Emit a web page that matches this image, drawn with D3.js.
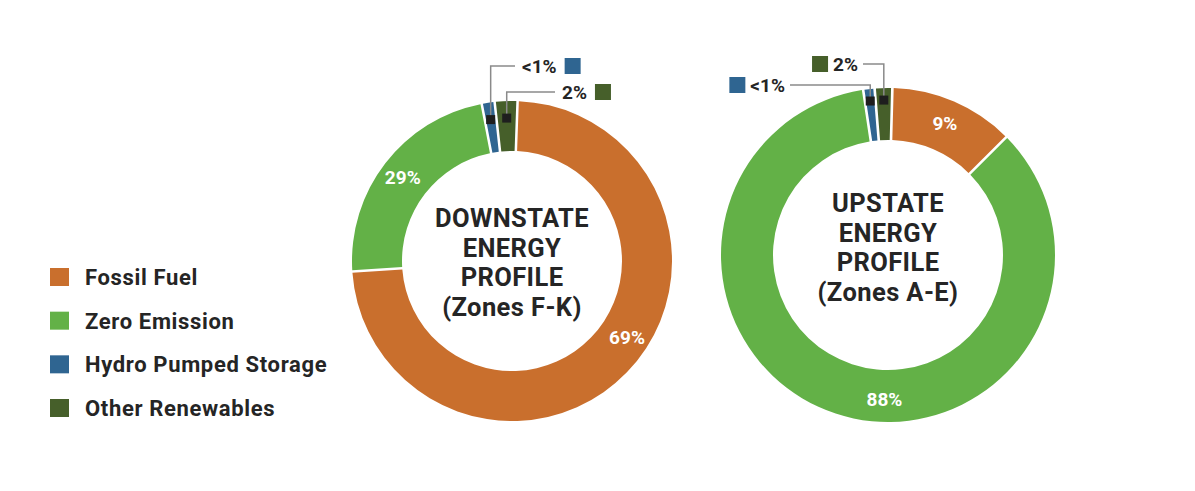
<!DOCTYPE html>
<html>
<head>
<meta charset="utf-8">
<script src="https://cdn.jsdelivr.net/npm/d3@7"></script>
<style>
  html, body { margin: 0; padding: 0; background: #ffffff; }
  svg { display: block; font-family: Roboto, "Noto Sans", sans-serif; }
</style>
</head>
<body>
<svg id="chart" width="1195" height="491"></svg>
<script>
// ---- data ----
const categories = ["Fossil Fuel", "Zero Emission", "Hydro Pumped Storage", "Other Renewables"];
// share of each ring as drawn (percent of the circle)
const downstateShare = [73.8, 23.0, 1.1, 2.1];
const upstateShare   = [12.0, 85.6, 0.9, 1.5];
// printed labels
const downstateLabels = ["69%", "29%", "<1%", "2%"];
const upstateLabels   = ["9%", "88%", "<1%", "2%"];
const downstateTitle = ["DOWNSTATE", "ENERGY", "PROFILE", "(Zones F-K)"];
const upstateTitle   = ["UPSTATE", "ENERGY", "PROFILE", "(Zones A-E)"];

// ---- styles ----
const colors = ["#c96f2d", "#63b147", "#2f6591", "#465f2a"];
const color = d3.scaleOrdinal().domain(categories).range(colors);
const textColor = "#252525";
const deg = Math.PI / 180;

const svg = d3.select("#chart");

// ---- legend ----
const legend = svg.append("g").attr("transform", "translate(50,0)");
const legendY = d3.scalePoint().domain(categories).range([277, 408]);
categories.forEach(c => {
  const g = legend.append("g").attr("transform", `translate(0,${legendY(c)})`);
  g.append("rect").attr("x", 0).attr("y", -9).attr("width", 19).attr("height", 18).attr("fill", color(c));
  g.append("text").attr("x", 35).attr("y", 0).attr("dy", "0.36em")
    .attr("font-size", 22).attr("font-weight", 700).attr("letter-spacing", "0.65px")
    .attr("fill", textColor).text(c);
});

// ---- donut drawing ----
function donut(cfg) {
  const g = svg.append("g").attr("transform", `translate(${cfg.cx},${cfg.cy})`);
  const pie = d3.pie().sort(null).value(d => d.v)
    .startAngle(cfg.start * deg).endAngle(cfg.start * deg + 2 * Math.PI).padAngle(0.013);
  const data = pie(categories.map((c, i) => ({ c, v: cfg.values[i], label: cfg.labels[i] })));
  const arc = d3.arc().innerRadius(cfg.r0).outerRadius(cfg.r1);
  g.selectAll("path.slice").data(data).join("path").attr("class", "slice")
    .attr("d", arc).attr("fill", d => color(d.data.c));

  // in-ring percentage labels for the two large slices
  const lr = (cfg.r0 + cfg.r1) / 2 + 3;
  data.slice(0, 2).forEach((d, i) => {
    const a = d.startAngle + (d.endAngle - d.startAngle) * cfg.labelFrac[i];
    g.append("text").attr("x", lr * Math.sin(a)).attr("y", -lr * Math.cos(a)).attr("dy", "0.36em")
      .attr("text-anchor", "middle").attr("font-size", 19).attr("font-weight", 700)
      .attr("fill", "#ffffff").text(d.data.label);
  });

  // callouts for the two small slices
  data.slice(2).forEach((d, i) => {
    const co = cfg.callouts[i];
    const a = (d.startAngle + d.endAngle) / 2;
    const mx = cfg.cx + co.mr * Math.sin(a), my = cfg.cy - co.mr * Math.cos(a);
    const gx = mx - cfg.cx, gy = my - cfg.cy;
    const ly = co.y - cfg.cy;
    g.append("path")
      .attr("d", `M${gx},${gy} L${gx},${ly} L${co.x - cfg.cx},${ly}`)
      .attr("fill", "none").attr("stroke", "#8a8a8a").attr("stroke-width", 1.5);
    g.append("rect").attr("x", gx - 4.5).attr("y", gy - 4.5).attr("width", 9).attr("height", 9).attr("fill", "#1e1e1e");
    const t = g.append("text").attr("y", ly).attr("dy", "0.36em")
      .attr("font-size", 19).attr("font-weight", 700).attr("fill", textColor).text(d.data.label);
    if (co.side === "right") {
      t.attr("x", co.x - cfg.cx + 7).attr("text-anchor", "start");
      const w = t.node().getComputedTextLength();
      g.append("rect").attr("x", co.x - cfg.cx + 7 + w + 8).attr("y", ly - 8).attr("width", 16).attr("height", 16)
        .attr("fill", color(d.data.c));
    } else {
      t.attr("x", co.x - cfg.cx - 5).attr("text-anchor", "end");
      const w = t.node().getComputedTextLength();
      g.append("rect").attr("x", co.x - cfg.cx - 5 - w - 21).attr("y", ly - 8).attr("width", 16).attr("height", 16)
        .attr("fill", color(d.data.c));
    }
  });

  // center title
  cfg.title.forEach((line, i) => {
    g.append("text").attr("x", 0).attr("y", cfg.titleY + i * cfg.titleStep)
      .attr("text-anchor", "middle").attr("font-size", 25.5).attr("font-weight", 700)
      .attr("letter-spacing", "0.4px").attr("fill", textColor).text(line);
  });
}

donut({
  cx: 512, cy: 261, r0: 110, r1: 160, start: 2,
  values: downstateShare, labels: downstateLabels, title: downstateTitle,
  labelFrac: [0.46, 0.5],
  titleY: -34, titleStep: 29.5,
  callouts: [
    { mr: 143, y: 66, x: 515, side: "right" },
    { mr: 143, y: 92, x: 555, side: "right" }
  ]
});

donut({
  cx: 888, cy: 255, r0: 115, r1: 167, start: 1.5,
  values: upstateShare, labels: upstateLabels, title: upstateTitle,
  labelFrac: [0.5, 0.445],
  titleY: -43, titleStep: 29.5,
  callouts: [
    { mr: 155, y: 85, x: 790, side: "left" },
    { mr: 155, y: 64, x: 863, side: "left" }
  ]
});
</script>
</body>
</html>
